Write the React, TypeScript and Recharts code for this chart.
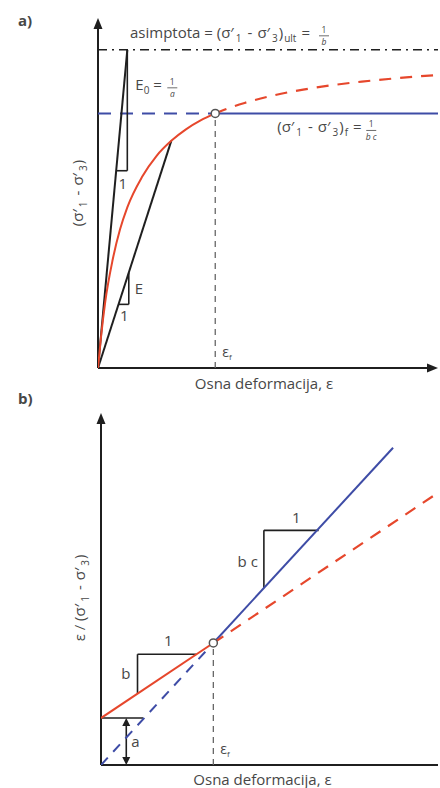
import React from "react";
import { ComposedChart, Line, ReferenceDot, ReferenceLine, XAxis, YAxis } from "recharts";

const FONT = "'Open Sans', 'Noto Sans', sans-serif";
const INK = "#474747";
const AXIS = "#1f1f1f";
const RED = "#e6472c";
const BLUE = "#3e4ca6";

// a) hyperbolic stress–strain curve
const curveStrain = [0, 0.1, 0.25, 0.5, 0.75, 1, 1.5, 2, 2.5, 3, 3.5, 4];
const curveStress = [0, 9.5, 21, 34, 43.5, 50.5, 60, 66.7, 71.4, 75, 77.8, 80];
const tailStrain = [4, 4.5, 5, 6, 7, 8, 9, 10, 11, 11.6];
const tailStress = [80, 81.8, 83.3, 85.7, 87.5, 88.9, 90, 90.9, 91.7, 92.1];
const stressUlt = 100;
const failStrain = 4;
const failStress = 80;
const tangentAt = 1; // E0 line meets the asymptote here
const secantEnd = [2.5, 71.4];
const strainMaxA = 11.6;
const stressMaxA = 110;

// b) transformed axes: eps / deviator stress vs eps
const interceptA = 1;
const redStrain = [0, 4, 12];
const redRatio = [1, 2.6, 5.8];
const blueStrain = [0, 4, 10.4];
const blueRatio = [0, 2.6, 6.76];
const strainMaxB = 12;
const ratioMaxB = 7.5;

const pts = (xs: number[], ys: number[]) => xs.map((x, i) => ({ x, y: ys[i] }));
const curveSolid = pts(curveStrain, curveStress);
const curveDashed = pts(tailStrain, tailStress);
const redSolid = pts(redStrain.slice(0, 2), redRatio.slice(0, 2));
const redDashed = pts(redStrain.slice(1), redRatio.slice(1));
const blueDashed = pts(blueStrain.slice(0, 2), blueRatio.slice(0, 2));
const blueSolid = pts(blueStrain.slice(1), blueRatio.slice(1));

const txt = { fontFamily: FONT, fill: INK, fontSize: 15 } as const;
const sub = { fontSize: 10 } as const;

const arrowUp = (p: any) => (
  <path d={`M${p.cx},${p.cy} L${p.cx - 4.5},${p.cy + 11} L${p.cx + 4.5},${p.cy + 11} Z`} fill={AXIS} />
);
const arrowRight = (p: any) => (
  <path d={`M${p.cx},${p.cy} L${p.cx - 11},${p.cy - 4.5} L${p.cx - 11},${p.cy + 4.5} Z`} fill={AXIS} />
);
const arrowSmallUp = (p: any) => (
  <path d={`M${p.cx},${p.cy} L${p.cx - 4},${p.cy + 8} L${p.cx + 4},${p.cy + 8} Z`} fill={AXIS} />
);
const arrowSmallDown = (p: any) => (
  <path d={`M${p.cx},${p.cy} L${p.cx - 4},${p.cy - 8} L${p.cx + 4},${p.cy - 8} Z`} fill={AXIS} />
);
const openDot = (p: any) => <circle cx={p.cx} cy={p.cy} r={4} fill="#fff" stroke="#555" strokeWidth={1.5} />;

// stacked little fraction, centred on x
const frac = (x: number, y: number, top: string, bottom: string) => (
  <g>
    <text x={x} y={y - 5} textAnchor="middle" {...txt} fontSize={8.5}>{top}</text>
    <line x1={x - 5} x2={x + 5} y1={y - 2} y2={y - 2} stroke={INK} strokeWidth={0.8} />
    <text x={x} y={y + 7.5} textAnchor="middle" {...txt} fontSize={8.5} fontStyle="italic">{bottom}</text>
  </g>
);

// (σ'1 - σ'3) with optional trailing subscript
const deviator = (tail: string) => [
  <tspan key="o">(σ′</tspan>,
  <tspan key="1" dx={2} dy={4} {...sub}>1</tspan>,
  <tspan key="m" dx={6} dy={-4}>-</tspan>,
  <tspan key="s" dx={5}>σ′</tspan>,
  <tspan key="3" dx={2} dy={4} {...sub}>3</tspan>,
  <tspan key="c" dx={1} dy={-4}>)</tspan>,
  tail ? <tspan key="t" dx={1} dy={4} {...sub}>{tail}</tspan> : null,
  tail ? <tspan key="r" dx={5} dy={-4}>=</tspan> : null,
];

const at = (dx: number, dy: number, body: (x: number, y: number) => React.ReactNode) => (p: any) => (
  <g>{body(p.cx + dx, p.cy + dy)}</g>
);

const line = (x1: number, y1: number, x2: number, y2: number, key: string, stroke = AXIS, extra: any = {}) => (
  <ReferenceLine
    key={key}
    segment={[{ x: x1, y: y1 }, { x: x2, y: y2 }]}
    stroke={stroke}
    strokeWidth={2}
    ifOverflow="visible"
    {...extra}
  />
);

const dot = (x: number, y: number, key: string, shape: (p: any) => React.ReactElement) => (
  <ReferenceDot key={key} x={x} y={y} r={1} ifOverflow="visible" shape={shape} />
);

const epsF = (x: number, y: number) => (
  <text x={x} y={y} {...txt} fontSize={14}>
    ε<tspan dy={3} fontSize={8}>f</tspan>
  </text>
);

function PanelA() {
  return (
    <ComposedChart width={440} height={395} margin={{ top: 18, right: 2, left: 98, bottom: 27 }}>
      <XAxis type="number" dataKey="x" domain={[0, strainMaxA]} hide allowDataOverflow />
      <YAxis type="number" domain={[0, stressMaxA]} hide allowDataOverflow />
      {line(0, 0, 0, stressMaxA - 2, "ya")}
      {line(0, 0, strainMaxA - 0.2, 0, "xa")}
      {dot(0, stressMaxA, "ya-arrow", arrowUp)}
      {dot(strainMaxA, 0, "xa-arrow", arrowRight)}
      {line(0, stressUlt, strainMaxA, stressUlt, "ult", AXIS, { strokeWidth: 1.6, strokeDasharray: "9 5 2 5" })}
      {line(failStrain, 0, failStrain, failStress, "fail-v", "#666", { strokeWidth: 1.3, strokeDasharray: "6 5" })}
      {line(0, failStress, failStrain, failStress, "fail-dash", BLUE, { strokeDasharray: "13 9" })}
      {line(failStrain, failStress, strainMaxA, failStress, "fail-solid", BLUE)}
      {/* initial tangent E0 with its slope triangle */}
      {line(0, 0, tangentAt, stressUlt, "e0")}
      {line(tangentAt, stressUlt, tangentAt, 62, "e0-v", AXIS, { strokeWidth: 1.6 })}
      {line(0.62, 62, tangentAt, 62, "e0-h", AXIS, { strokeWidth: 1.6 })}
      {/* secant modulus E */}
      {line(0, 0, secantEnd[0], secantEnd[1], "e")}
      {line(1.05, 20, 1.05, 30, "e-v", AXIS, { strokeWidth: 1.6 })}
      {line(0.7, 20, 1.05, 20, "e-h", AXIS, { strokeWidth: 1.6 })}
      <Line data={curveSolid} dataKey="y" type="monotone" stroke={RED} strokeWidth={2} dot={false} isAnimationActive={false} />
      <Line data={curveDashed} dataKey="y" type="monotone" stroke={RED} strokeWidth={2.2} strokeDasharray="12 9" dot={false} isAnimationActive={false} />
      {dot(failStrain, failStress, "fail-dot", openDot)}
      {dot(0, stressUlt, "ult-label", at(32, -12, (x, y) => (
        <g>
          <text x={x} y={y} {...txt}>asimptota = {deviator("ult")}</text>
          {frac(x + 194, y, "1", "b")}
        </g>
      )))}
      {dot(tangentAt, stressUlt, "e0-label", at(8, 40, (x, y) => (
        <g>
          <text x={x} y={y} {...txt}>E<tspan dy={4} {...sub}>0</tspan><tspan dy={-4}> =</tspan></text>
          {frac(x + 37, y, "1", "a")}
        </g>
      )))}
      {dot(0.85, 62, "e0-one", at(0, 18, (x, y) => <text x={x} y={y} {...txt} textAnchor="middle">1</text>))}
      {dot(1.05, 25, "e-label", at(6, 6, (x, y) => <text x={x} y={y} {...txt}>E</text>))}
      {dot(0.9, 20, "e-one", at(0, 17, (x, y) => <text x={x} y={y} {...txt} textAnchor="middle">1</text>))}
      {dot(failStrain, failStress, "f-label", at(62, 19, (x, y) => (
        <g>
          <text x={x} y={y} {...txt}>{deviator("f")}</text>
          {frac(x + 94, y, "1", "b c")}
        </g>
      )))}
      {dot(failStrain, 0, "epsf-a", at(7, -11, (x, y) => epsF(x, y)))}
      {dot(0, 55, "ylab-a", at(-15, 0, (x, y) => (
        <text x={x} y={y} {...txt} textAnchor="middle" transform={`rotate(-90 ${x} ${y})`}>{deviator("")}</text>
      )))}
      {dot(strainMaxA / 2, 0, "xlab-a", at(-4, 21, (x, y) => (
        <text x={x} y={y} {...txt} textAnchor="middle">Osna deformacija, ε</text>
      )))}
    </ComposedChart>
  );
}

function PanelB() {
  return (
    <ComposedChart width={440} height={393} margin={{ top: 18, right: 2, left: 101, bottom: 23 }}>
      <XAxis type="number" dataKey="x" domain={[0, strainMaxB]} hide allowDataOverflow />
      <YAxis type="number" domain={[0, ratioMaxB]} hide allowDataOverflow />
      {line(0, 0, 0, ratioMaxB - 0.15, "yb")}
      {line(0, 0, strainMaxB, 0, "xb")}
      {dot(0, ratioMaxB, "yb-arrow", arrowUp)}
      {line(failStrain, 0, failStrain, 2.6, "fail-v", "#666", { strokeWidth: 1.3, strokeDasharray: "6 5" })}
      {/* slope triangles for b and b·c */}
      {line(1.3, 1.52, 1.3, 2.36, "b-v", AXIS, { strokeWidth: 1.6 })}
      {line(1.3, 2.36, 3.4, 2.36, "b-h", AXIS, { strokeWidth: 1.6 })}
      {line(5.8, 3.77, 5.8, 5.0, "bc-v", AXIS, { strokeWidth: 1.6 })}
      {line(5.8, 5.0, 7.75, 5.0, "bc-h", AXIS, { strokeWidth: 1.6 })}
      {/* intercept a */}
      {line(0, interceptA, 1.5, interceptA, "a-h", AXIS, { strokeWidth: 1.6 })}
      {line(0.9, 0.15, 0.9, interceptA - 0.15, "a-v", AXIS, { strokeWidth: 1.6 })}
      {dot(0.9, interceptA, "a-up", arrowSmallUp)}
      {dot(0.9, 0, "a-down", arrowSmallDown)}
      <Line data={blueDashed} dataKey="y" type="linear" stroke={BLUE} strokeWidth={2} strokeDasharray="10 8" dot={false} isAnimationActive={false} />
      <Line data={blueSolid} dataKey="y" type="linear" stroke={BLUE} strokeWidth={2} dot={false} isAnimationActive={false} />
      <Line data={redDashed} dataKey="y" type="linear" stroke={RED} strokeWidth={2.2} strokeDasharray="12 9" dot={false} isAnimationActive={false} />
      <Line data={redSolid} dataKey="y" type="linear" stroke={RED} strokeWidth={2} dot={false} isAnimationActive={false} />
      {dot(failStrain, 2.6, "fail-dot", openDot)}
      {dot(2.4, 2.36, "b-one", at(0, -8, (x, y) => <text x={x} y={y} {...txt} textAnchor="middle">1</text>))}
      {dot(1.3, 1.94, "b-label", at(-7, 5, (x, y) => <text x={x} y={y} {...txt} textAnchor="end">b</text>))}
      {dot(6.95, 5.0, "bc-one", at(0, -7, (x, y) => <text x={x} y={y} {...txt} textAnchor="middle">1</text>))}
      {dot(5.8, 4.4, "bc-label", at(-6, 9, (x, y) => <text x={x} y={y} {...txt} textAnchor="end">b c</text>))}
      {dot(0.9, 0.5, "a-label", at(5, 5, (x, y) => <text x={x} y={y} {...txt}>a</text>))}
      {dot(failStrain, 0, "epsf-b", at(7, -11, (x, y) => epsF(x, y)))}
      {dot(0, 3.56, "ylab-b", at(-16, 0, (x, y) => (
        <text x={x} y={y} {...txt} textAnchor="middle" transform={`rotate(-90 ${x} ${y})`}>
          ε / {deviator("")}
        </text>
      )))}
      {dot(strainMaxB / 2, 0, "xlab-b", at(-7, 20, (x, y) => (
        <text x={x} y={y} {...txt} textAnchor="middle">Osna deformacija, ε</text>
      )))}
    </ComposedChart>
  );
}

const panelTag: React.CSSProperties = {
  position: "absolute",
  left: 18,
  fontFamily: FONT,
  fontWeight: 700,
  fontSize: 15,
  color: INK,
  lineHeight: 1,
};

export default function App() {
  return (
    <div style={{ position: "absolute", left: 0, top: 0, width: 440, height: 788, background: "#fff", overflow: "hidden" }}>
      <div style={{ ...panelTag, top: 13 }}>a)</div>
      <div style={{ ...panelTag, top: 391 }}>b)</div>
      <div style={{ position: "absolute", left: 0, top: 0 }}>
        <PanelA />
      </div>
      <div style={{ position: "absolute", left: 0, top: 395 }}>
        <PanelB />
      </div>
    </div>
  );
}
